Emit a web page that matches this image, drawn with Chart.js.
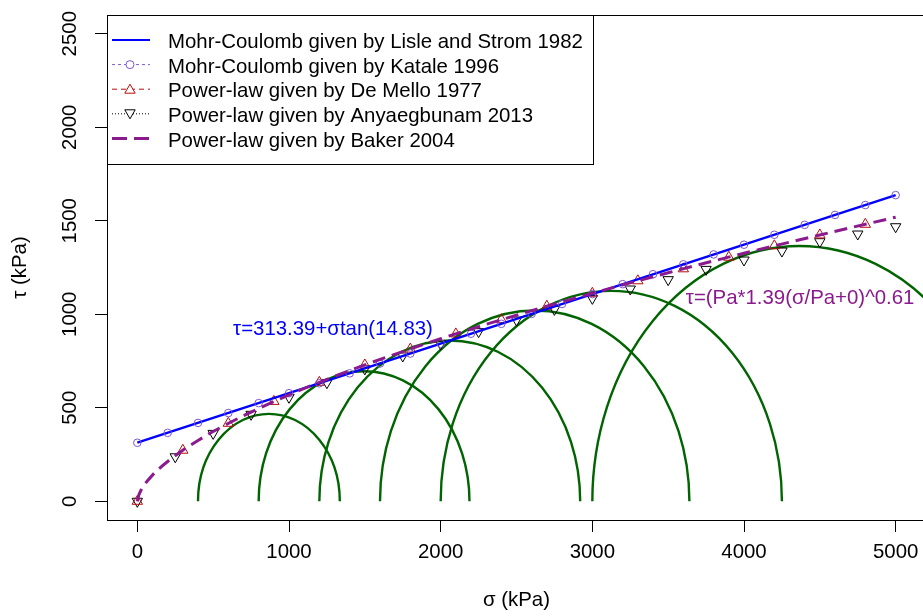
<!DOCTYPE html>
<html>
<head>
<meta charset="utf-8">
<script src="https://cdn.jsdelivr.net/npm/chart.js@4.4.1/dist/chart.umd.min.js"></script>
<style>
html, body { margin: 0; padding: 0; background: #fff; overflow: hidden; }
#wrap { width: 960px; height: 616px; }
</style>
</head>
<body>
<div id="wrap"><canvas id="chart"></canvas></div>
<script>
// tick labels
const xTicks = [0, 1000, 2000, 3000, 4000, 5000];
const yTicks = [0, 500, 1000, 1500, 2000, 2500];

// Mohr-Coulomb, Lisle and Strom 1982
const lisleSigma = [0, 5000];
const lisleTau = [313.39, 1637.2];

// Mohr-Coulomb, Katale 1996
const kataleSigma = [0, 200, 400, 600, 800, 1000, 1200, 1400, 1600, 1800, 2000, 2200, 2400,
  2600, 2800, 3000, 3200, 3400, 3600, 3800, 4000, 4200, 4400, 4600, 4800, 5000];
const kataleTau = [313, 366, 419, 472, 525, 578, 631, 684, 737, 790, 843, 896, 949,
  1002, 1055, 1108, 1161, 1214, 1267, 1320, 1372, 1425, 1478, 1531, 1584, 1637];

// Power-law, De Mello 1977
const deMelloSigma = [0, 300, 600, 900, 1200, 1500, 1800, 2100, 2400, 2700, 3000, 3300, 3600, 3900, 4200, 4500, 4800];
const deMelloTau = [0, 273, 417, 534, 636, 729, 814, 895, 971, 1043, 1112, 1179, 1243, 1305, 1366, 1424, 1481];

// Power-law, Anyaegbunam 2013
const anyaSigma = [0, 250, 500, 750, 1000, 1250, 1500, 1750, 2000, 2250, 2500, 2750, 3000,
  3250, 3500, 3750, 4000, 4250, 4500, 4750, 5000];
const anyaTau = [0, 238, 363, 465, 556, 634, 708, 777, 841, 907, 969, 1026, 1085,
  1135, 1185, 1240, 1290, 1338, 1388, 1429, 1468];

// Power-law, Baker 2004
const bakerSigma = [0, 10, 25, 50, 100, 150, 200, 300, 400, 500, 750, 1000, 1250, 1500, 2000, 2500, 3000, 3500, 4000, 4500, 5000];
const bakerTau = [0, 34, 60, 92, 140, 179, 213, 273, 325, 373, 477, 569, 652, 729, 869, 995, 1112, 1222, 1326, 1424, 1519];

// Mohr circles (sigma3, sigma1)
const sigma3 = [400, 800, 1200, 1600, 2000, 3000];
const sigma1 = [1335, 2190, 2920, 3640, 4250, 5730];

const FONT = '"Liberation Sans", Arial, sans-serif';
const FS = 20.4;
const BLUE = '#0000ff';
const PURPLE = '#7f55cc';
const RED = '#b80c0c';
const MAGENTA = '#8b1a8f';
const GREEN = '#006400';

const pts = (xs, ys) => xs.map((x, i) => ({ x: x, y: ys[i] }));

const legendItems = [
  { text: 'Mohr-Coulomb given by Lisle and Strom 1982', color: BLUE, width: 2, dash: [] },
  { text: 'Mohr-Coulomb given by Katale 1996', color: PURPLE, width: 1, dash: [3, 3], marker: 'circle', r: 4 },
  { text: 'Power-law given by De Mello 1977', color: RED, width: 1, dash: [5, 4], marker: 'triangle', r: 6 },
  { text: 'Power-law given by Anyaegbunam 2013', color: '#000', width: 1, dash: [1, 2], marker: 'triangle', r: 6, rot: 180 },
  { text: 'Power-law given by Baker 2004', color: MAGENTA, width: 3, dash: [15, 7] }
];

// semicircles drawn through the scales, below the data
const mohrCircles = {
  id: 'mohrCircles',
  beforeDatasetsDraw(chart) {
    const { ctx, chartArea: a, scales: { x, y } } = chart;
    ctx.save();
    ctx.beginPath();
    ctx.rect(a.left, a.top, a.right - a.left, a.bottom - a.top);
    ctx.clip();
    ctx.strokeStyle = GREEN;
    ctx.lineWidth = 2.4;
    sigma3.forEach((s3, i) => {
      const c = (s3 + sigma1[i]) / 2, r = (sigma1[i] - s3) / 2;
      const cx = x.getPixelForValue(c), cy = y.getPixelForValue(0);
      const rx = x.getPixelForValue(c + r) - cx;
      const ry = cy - y.getPixelForValue(r);
      ctx.beginPath();
      ctx.ellipse(cx, cy, rx, ry, 0, Math.PI, 2 * Math.PI);
      ctx.stroke();
    });
    ctx.restore();
  }
};

const extras = {
  id: 'extras',
  afterDatasetsDraw(chart) {
    const { ctx, chartArea: a, scales: { x, y } } = chart;
    ctx.save();
    ctx.font = FS + 'px ' + FONT;
    ctx.textAlign = 'center';
    ctx.textBaseline = 'middle';
    ctx.fillStyle = BLUE;
    ctx.fillText('τ=313.39+σtan(14.83)', x.getPixelForValue(1290), y.getPixelForValue(920));
    ctx.fillStyle = MAGENTA;
    ctx.fillText('τ=(Pa*1.39(σ/Pa+0)^0.61', x.getPixelForValue(4370), y.getPixelForValue(1087));

    // box round the plot
    ctx.strokeStyle = '#000';
    ctx.lineWidth = 1;
    ctx.strokeRect(a.left + 0.5, a.top + 0.5, a.right - a.left, a.bottom - a.top);

    // legend
    const lx = a.left, ly = a.top, lw = 486, lh = 149;
    ctx.fillStyle = '#fff';
    ctx.fillRect(lx, ly, lw, lh);
    ctx.strokeRect(lx + 0.5, ly + 0.5, lw, lh);
    legendItems.forEach((it, i) => {
      const yy = 40 + i * 24.6;
      ctx.strokeStyle = it.color;
      ctx.lineWidth = it.width;
      ctx.setLineDash(it.dash);
      ctx.beginPath();
      ctx.moveTo(112, yy);
      ctx.lineTo(150, yy);
      ctx.stroke();
      ctx.setLineDash([]);
      if (it.marker) {
        ctx.fillStyle = '#fff';
        ctx.lineWidth = 1;
        Chart.helpers.drawPoint(ctx, { pointStyle: it.marker, radius: it.r, rotation: it.rot || 0, borderWidth: 1 }, 130, yy + (it.marker === 'triangle' ? (it.rot ? -1 : 1) : 0));
      }
      ctx.fillStyle = '#000';
      ctx.textAlign = 'left';
      ctx.fillText(it.text, 168, yy + 2.5);
    });
    ctx.restore();
  }
};

new Chart(document.getElementById('chart'), {
  type: 'scatter',
  data: {
    datasets: [
      {
        label: 'Mohr-Coulomb given by Katale 1996',
        data: pts(kataleSigma, kataleTau),
        showLine: false,
        pointStyle: 'circle',
        pointRadius: 3.8,
        pointBorderWidth: 1,
        pointBorderColor: PURPLE,
        pointBackgroundColor: 'rgba(0,0,0,0)',
        order: 1
      },
      {
        label: 'Mohr-Coulomb given by Lisle and Strom 1982',
        data: pts(lisleSigma, lisleTau),
        showLine: true,
        borderColor: BLUE,
        borderWidth: 2.4,
        pointRadius: 0,
        order: 2
      },
      {
        label: 'Power-law given by De Mello 1977',
        data: pts(deMelloSigma, deMelloTau),
        showLine: false,
        pointStyle: 'triangle',
        pointRadius: 6,
        pointBorderWidth: 1,
        pointBorderColor: RED,
        pointBackgroundColor: 'rgba(0,0,0,0)',
        order: 3
      },
      {
        label: 'Power-law given by Anyaegbunam 2013',
        data: pts(anyaSigma, anyaTau),
        showLine: false,
        pointStyle: 'triangle',
        rotation: 180,
        pointRadius: 6,
        pointBorderWidth: 1,
        pointBorderColor: '#000',
        pointBackgroundColor: 'rgba(0,0,0,0)',
        order: 4
      },
      {
        label: 'Power-law given by Baker 2004',
        data: pts(bakerSigma, bakerTau),
        showLine: true,
        borderColor: MAGENTA,
        borderWidth: 3,
        borderDash: [13, 7],
        cubicInterpolationMode: 'monotone',
        pointRadius: 0,
        order: 0
      }
    ]
  },
  options: {
    responsive: true,
    maintainAspectRatio: false,
    animation: false,
    events: [],
    layout: { padding: { top: 15, right: 34, left: 0, bottom: 0 } },
    plugins: { legend: { display: false }, tooltip: { enabled: false } },
    scales: {
      x: {
        type: 'linear',
        min: -200,
        max: 5200,
        afterBuildTicks: s => { s.ticks = xTicks.map(v => ({ value: v })); },
        afterFit: s => { s.height = 96; },
        grid: { display: true, drawOnChartArea: false, drawTicks: true, tickLength: 12, color: '#000' },
        border: { display: true, color: '#000', width: 1 },
        ticks: { color: '#000', font: { family: FONT, size: FS }, padding: 8, maxRotation: 0, callback: v => String(v) },
        title: { display: true, text: 'σ (kPa)', color: '#000', font: { family: FONT, size: FS }, padding: 3 }
      },
      y: {
        type: 'linear',
        min: -100,
        max: 2600,
        afterBuildTicks: s => { s.ticks = yTicks.map(v => ({ value: v })); },
        afterFit: s => { s.width = 107; },
        grid: { display: true, drawOnChartArea: false, drawTicks: true, tickLength: 12, color: '#000' },
        border: { display: true, color: '#000', width: 1 },
        ticks: { color: '#000', font: { family: FONT, size: FS }, padding: 2, minRotation: 90, maxRotation: 90, crossAlign: 'center', callback: v => String(v) },
        title: { display: true, text: 'τ (kPa)', color: '#000', font: { family: FONT, size: FS }, padding: 8 }
      }
    }
  },
  plugins: [mohrCircles, extras]
});
</script>
</body>
</html>
